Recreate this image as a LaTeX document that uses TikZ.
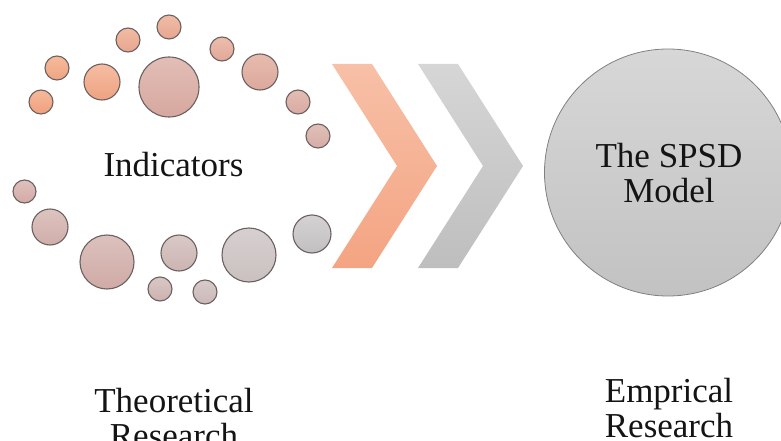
\documentclass[tikz,border=0pt]{standalone}
\usepackage{fontspec}
\setmainfont{Liberation Serif}
\newfontfamily\captionface{Liberation Serif}
\begin{document}
\begin{tikzpicture}[x=1pt,y=-1pt,
  label text/.style={font=\captionface\fontsize{35}{35}\selectfont, text=black!92, align=center, inner sep=0pt},
  dot/.style n args={3}{circle, inner sep=0pt, minimum size=#1, draw=ringgray, line width=1.1pt, top color=#2, bottom color=#3},
  chevronshape/.style 2 args={top color=#1, bottom color=#2, draw=none}
]
\definecolor{ringgray}{HTML}{6B6060}
% canvas
\useasboundingbox (0,0) rectangle (781,441);
\clip (0,0) rectangle (781,441);

% ring of indicator dots, upper arc
\definecolor{c1t}{HTML}{F6B99A}\definecolor{c1b}{HTML}{EFA07E}
\definecolor{c2t}{HTML}{F6BB9C}\definecolor{c2b}{HTML}{EFA482}
\definecolor{c3t}{HTML}{F6BDA2}\definecolor{c3b}{HTML}{EEA282}
\definecolor{c4t}{HTML}{E2BEB6}\definecolor{c4b}{HTML}{D6A89F}
\definecolor{c5t}{HTML}{F1BCA5}\definecolor{c5b}{HTML}{E8A58E}
\definecolor{c6t}{HTML}{F0BCA6}\definecolor{c6b}{HTML}{E6A690}
\definecolor{c7t}{HTML}{ECBDAD}\definecolor{c7b}{HTML}{E2A898}
\definecolor{c8t}{HTML}{E7BBAF}\definecolor{c8b}{HTML}{DCA89C}
\definecolor{c9t}{HTML}{E3BDB3}\definecolor{c9b}{HTML}{D8AAA2}
\definecolor{c10t}{HTML}{E1C0BA}\definecolor{c10b}{HTML}{D6ACA6}
% lower arc
\definecolor{c11t}{HTML}{DFC1BD}\definecolor{c11b}{HTML}{D4AAA6}
\definecolor{c12t}{HTML}{DDC3BF}\definecolor{c12b}{HTML}{D0AEAA}
\definecolor{c13t}{HTML}{DBC1BD}\definecolor{c13b}{HTML}{D0AAA6}
\definecolor{c14t}{HTML}{D9C9C7}\definecolor{c14b}{HTML}{CCB4B2}
\definecolor{c15t}{HTML}{D9C7C5}\definecolor{c15b}{HTML}{CCB2B0}
\definecolor{c16t}{HTML}{D7CBCB}\definecolor{c16b}{HTML}{CCB8B8}
\definecolor{c17t}{HTML}{D7D0D0}\definecolor{c17b}{HTML}{CAC0C0}
\definecolor{c18t}{HTML}{D4D2D2}\definecolor{c18b}{HTML}{C2BFBF}

\node[dot={24pt}{c1t}{c1b}]  (d1)  at (41,102) {};
\node[dot={24pt}{c2t}{c2b}]  (d2)  at (57,68) {};
\node[dot={36pt}{c3t}{c3b}]  (d3)  at (102,82) {};
\node[dot={60pt}{c4t}{c4b}]  (d4)  at (169,87) {};
\node[dot={24pt}{c5t}{c5b}]  (d5)  at (128,40) {};
\node[dot={24pt}{c6t}{c6b}]  (d6)  at (169,27) {};
\node[dot={24pt}{c7t}{c7b}]  (d7)  at (222,49) {};
\node[dot={36pt}{c8t}{c8b}]  (d8)  at (260,72) {};
\node[dot={24pt}{c9t}{c9b}]  (d9)  at (298,102) {};
\node[dot={24pt}{c10t}{c10b}] (d10) at (318,136) {};
\node[dot={23pt}{c11t}{c11b}] (d11) at (24.5,191.5) {};
\node[dot={36pt}{c12t}{c12b}] (d12) at (50,227) {};
\node[dot={54pt}{c13t}{c13b}] (d13) at (107,262) {};
\node[dot={36pt}{c14t}{c14b}] (d14) at (179,253) {};
\node[dot={24pt}{c15t}{c15b}] (d15) at (160,289) {};
\node[dot={24pt}{c16t}{c16b}] (d16) at (205,292) {};
\node[dot={54pt}{c17t}{c17b}] (d17) at (249,255) {};
\node[dot={38pt}{c18t}{c18b}] (d18) at (312,234) {};

\node[label text, anchor=base] (indicators) at (173.5,176) {Indicators};

% process chevrons
\definecolor{orgtop}{HTML}{F7C0A7}\definecolor{orgbot}{HTML}{F4A482}
\definecolor{grytop}{HTML}{D6D6D6}\definecolor{grybot}{HTML}{BEBEBE}
\path[chevronshape={orgtop}{orgbot}] (332,64) -- (372,64) -- (437,166) -- (372,268) -- (332,268) -- (397,166) -- cycle;
\path[chevronshape={grytop}{grybot}] (418,64) -- (458,64) -- (523,166) -- (458,268) -- (418,268) -- (483,166) -- cycle;

% model circle
\definecolor{modtop}{HTML}{D7D7D7}\definecolor{modbot}{HTML}{C2C2C2}
\node[circle, inner sep=0pt, minimum size=247pt, draw=black!50, line width=0.8pt,
      top color=modtop, bottom color=modbot] (model) at (668,172.5) {};
% two-line labels: the base anchor sits on the last line
\node[label text, anchor=base] (modeltext) at (669,202) {The SPSD\\Model};

% captions
\node[label text, anchor=base] (theory) at (174,447) {Theoretical\\Research};
\node[label text, anchor=base] (empiric) at (669,437) {Emprical\\Research};
\end{tikzpicture}
\end{document}
